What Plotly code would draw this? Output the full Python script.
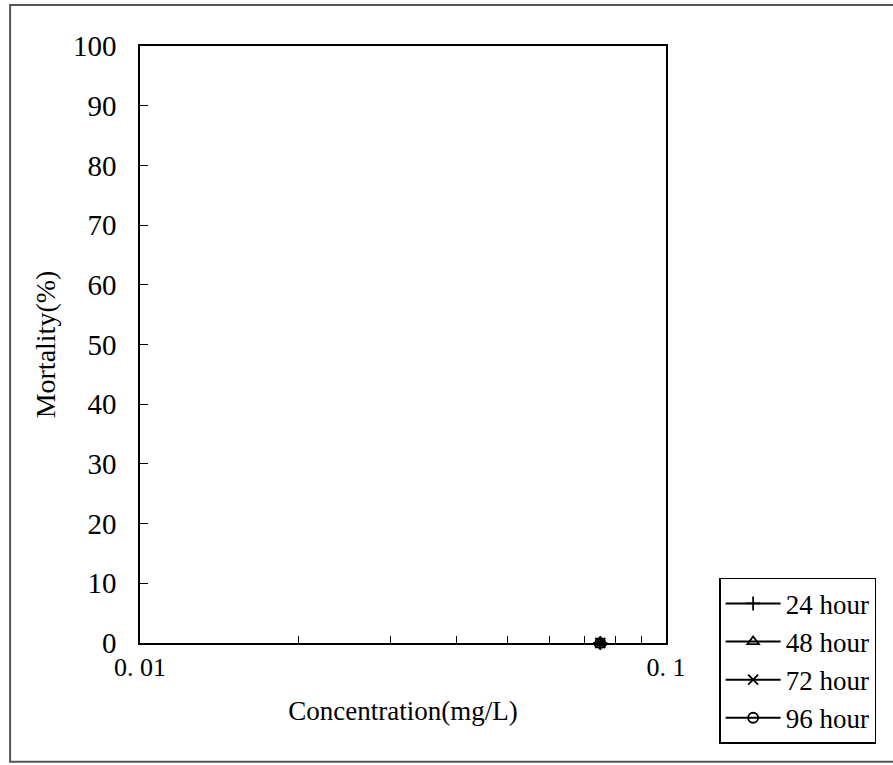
import plotly.graph_objects as go

series_names = ["24 hour", "48 hour", "72 hour", "96 hour"]
series_symbols = ["cross-thin-open", "triangle-up-open", "x-thin-open", "circle-open"]
concentration = [0.075]
mortality_24 = [0]
mortality_48 = [0]
mortality_72 = [0]
mortality_96 = [0]
mortality_all = [mortality_24, mortality_48, mortality_72, mortality_96]

x_tickvals = [0.01, 0.02, 0.03, 0.04, 0.05, 0.06, 0.07, 0.08, 0.09, 0.1]
x_ticktext = ["0. 01", "", "", "", "", "", "", "", "", "0. 1"]
y_tickvals = [0, 10, 20, 30, 40, 50, 60, 70, 80, 90, 100]

FONT = "Liberation Serif"

fig = go.Figure()
for name, sym, ys in zip(series_names, series_symbols, mortality_all):
    fig.add_trace(go.Scatter(
        x=concentration, y=ys, name=name, mode="lines+markers",
        line=dict(color="black", width=2),
        marker=dict(symbol=sym, size=10, color="black", line=dict(color="black", width=1.8)),
        cliponaxis=False,
    ))

fig.update_layout(
    width=893, height=765,
    margin=dict(l=140, r=227, t=46, b=122),
    paper_bgcolor="white", plot_bgcolor="white",
    font=dict(family=FONT, color="black", size=24),
    showlegend=True,
    legend=dict(
        x=1.101, y=-0.169, xanchor="left", yanchor="bottom",
        bordercolor="black", borderwidth=1.5, bgcolor="white",
        font=dict(family=FONT, size=27, color="black"),
        itemwidth=55, tracegroupgap=0,
    ),
    xaxis=dict(
        type="log", range=[-2, -1],
        tickvals=x_tickvals, ticktext=x_ticktext,
        ticks="inside", ticklen=7, tickcolor="black", tickwidth=1.2,
        showline=True, linecolor="black", linewidth=1.5, mirror=True,
        showgrid=False, zeroline=False,
        tickfont=dict(family=FONT, size=26),
        ticklabelstandoff=0,
        title=dict(text="Concentration(mg/L)", font=dict(family=FONT, size=27), standoff=20),
    ),
    yaxis=dict(
        range=[0, 100],
        tickvals=y_tickvals,
        ticks="inside", ticklen=8, tickcolor="black", tickwidth=1.2,
        showline=True, linecolor="black", linewidth=1.5, mirror=True,
        showgrid=False, zeroline=False,
        tickfont=dict(family=FONT, size=29),
        ticklabelstandoff=16,
        title=dict(text="Mortality(%)", font=dict(family=FONT, size=28), standoff=9),
    ),
    shapes=[dict(
        type="rect", xref="paper", yref="paper",
        x0=-0.247, x1=1.5, y0=-0.199, y1=1.0687,
        line=dict(color="#555555", width=2), layer="below",
    )],
)

fig.write_html("out.html", post_script="document.body.style.margin='0';",
               config={"displayModeBar": False})
